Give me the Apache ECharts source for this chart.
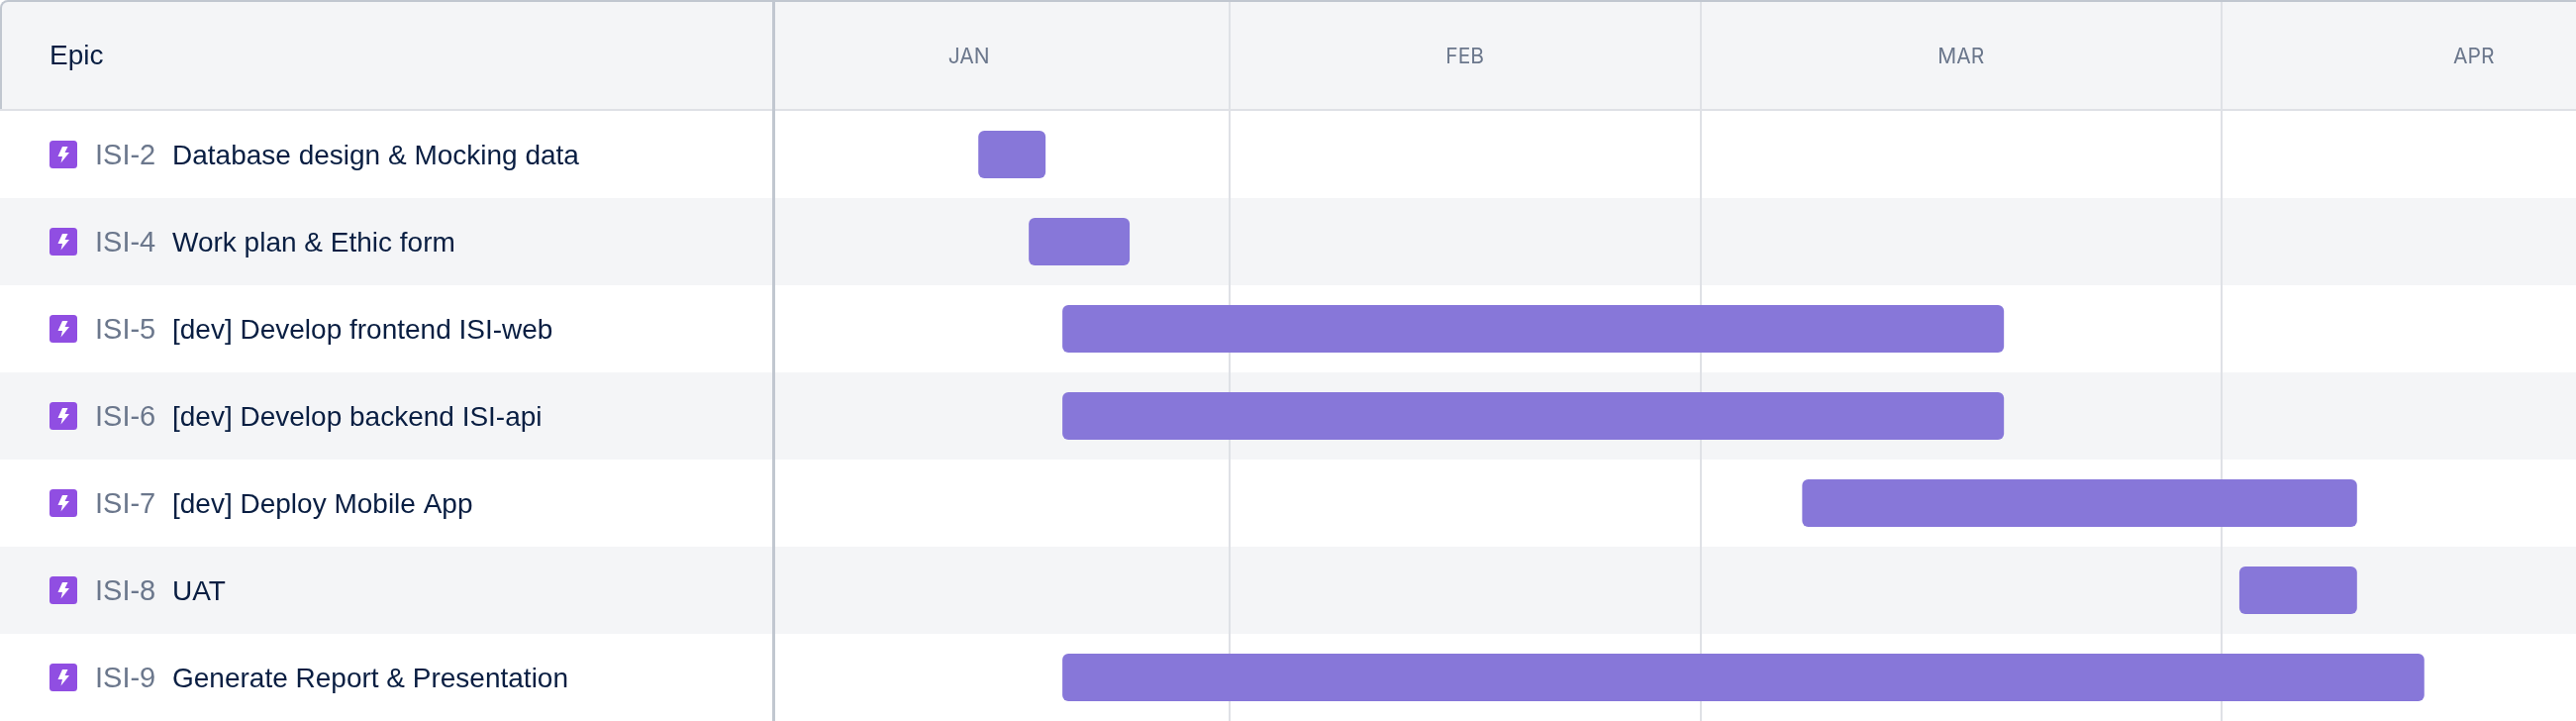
<!DOCTYPE html>
<html><head><meta charset="utf-8">
<style>html,body{margin:0;padding:0;background:#fff}#c{width:2602px;height:728px}</style>
<script src="https://cdn.jsdelivr.net/npm/echarts@6/dist/echarts.min.js"></script>
</head><body><div id="c"></div>
<script>
const keys = ['ISI-2','ISI-4','ISI-5','ISI-6','ISI-7','ISI-8','ISI-9'];
const titles = ['Database design & Mocking data','Work plan & Ethic form','[dev] Develop frontend ISI-web','[dev] Develop backend ISI-api','[dev] Deploy Mobile App','UAT','Generate Report & Presentation'];
const starts = ['2021-01-17','2021-01-20','2021-01-22','2021-01-22','2021-03-07','2021-04-02','2021-01-22'];
const ends   = ['2021-01-20','2021-01-25','2021-03-18','2021-03-18','2021-04-08','2021-04-08','2021-04-12'];
const monthLabels = ['JAN','FEB','MAR','APR'];
const monthStarts = ['2021-02-01','2021-03-01','2021-04-01'];
const monthMids = ['2021-01-16T12:00','2021-02-15T00:00','2021-03-16T12:00','2021-04-16T00:00'];
const axisMin = '2021-01-04T22:00';
const axisMax = '2021-04-22T02:00';
const headerTitle = 'Epic';

const FONT = '"Liberation Sans", Arial, sans-serif';
const DAY = 864e5;
const t = s => new Date(s.length > 10 ? s + ':00Z' : s + 'T00:00:00Z').getTime();
const midTimes = monthMids.map(t), startTimes = monthStarts.map(t);
const LEFT = 782, HEAD = 112, W = 2602, H = 728;

const chart = echarts.init(document.getElementById('c'), null, {renderer:'canvas', width:W, height:H});
const timeAxis = (grid, extra) => Object.assign({
  type:'value', gridIndex:grid, min:t(axisMin), max:t(axisMax), scale:true,
  axisLine:{show:false},
  axisTick:{show:false, customValues:startTimes},
  splitLine:{show:true, lineStyle:{color:'#DFE1E6', width:2}},
  axisLabel:{show:false, customValues:startTimes}
}, extra);

chart.setOption({
  animation:false,
  backgroundColor:'#fff',
  grid:[
    {left:0, top:HEAD, width:LEFT, height:H-HEAD},
    {left:LEFT, top:HEAD, right:0, height:H-HEAD},
    {left:LEFT, top:2, right:0, height:HEAD-2}
  ],
  xAxis:[
    {type:'value', gridIndex:0, min:0, max:1, show:false, splitLine:{show:false}},
    timeAxis(1,{}),
    timeAxis(2,{
      position:'bottom',
      axisLabel:{show:true, inside:true, margin:44, customValues:midTimes, hideOverlap:false, showMinLabel:true, showMaxLabel:true,
        color:'#6B778C', fontFamily:'Inter, "Open Sans", sans-serif', fontSize:21,
        formatter:(v)=>monthLabels[midTimes.indexOf(v)] || ''}
    })
  ],
  yAxis:[
    {type:'category', gridIndex:0, inverse:true, data:keys,
      axisLine:{show:false}, axisTick:{show:false},
      splitArea:{show:true, areaStyle:{color:['#FFFFFF','#F4F5F7'], opacity:1}},
      splitLine:{show:false},
      axisLabel:{inside:true, margin:96, align:'left', verticalAlign:'middle',
        formatter:(v,i)=>'{k|'+v+'}{s|}{n|'+titles[i]+'}',
        rich:{
          k:{color:'#6B778C', fontFamily:FONT, fontSize:29, width:66, padding:[4,0,0,0]},
          s:{width:12},
          n:{color:'#091E42', fontFamily:FONT, fontSize:28, padding:[4,0,0,0]}
        }}},
    {type:'category', gridIndex:1, inverse:true, data:keys, show:true,
      axisLine:{show:false}, axisTick:{show:false}, axisLabel:{show:false},
      splitArea:{show:true, areaStyle:{color:['#FFFFFF','#F4F5F7'], opacity:1}},
      splitLine:{show:false}},
    {type:'category', gridIndex:2, data:[''], show:false}
  ],
  graphic:[
    {type:'rect', z:-2, silent:true, shape:{x:0,y:0,width:W,height:HEAD,r:[8,0,0,0]}, style:{fill:'#C1C7D0'}},
    {type:'rect', z:-1, silent:true, shape:{x:2,y:2,width:W,height:HEAD,r:[6,0,0,0]}, style:{fill:'#F4F5F7'}},
    {type:'rect', z:50, silent:true, shape:{x:0,y:110,width:W,height:2}, style:{fill:'#DFE1E6'}},
    {type:'rect', z:50, silent:true, shape:{x:780,y:2,width:3,height:H}, style:{fill:'#C1C7D0'}},
    {type:'text', z:50, silent:true, x:50, y:57, style:{text:headerTitle, fill:'#091E42', font:'28px '+FONT, textVerticalAlign:'middle'}}
  ],
  series:[
    {type:'custom', name:'icons', coordinateSystem:'cartesian2d', xAxisIndex:0, yAxisIndex:0, z:5, silent:true,
      data:keys.map((k,i)=>[0,i]), encode:{x:0,y:1},
      renderItem:(p,api)=>{
        const cy = api.coord([0,api.value(1)])[1];
        return {type:'group', x:50, y:cy-14, children:[
          {type:'rect', shape:{x:0,y:0,width:28,height:28,r:3.5}, style:{fill:'#904EE2'}},
          {type:'polygon', shape:{points:[[13,6],[18.5,6],[15.5,12],[20,12],[11.5,22.5],[13,16],[8.5,16]]}, style:{fill:'#fff'}}
        ]};
      }},
    {type:'custom', name:'bars', coordinateSystem:'cartesian2d', xAxisIndex:1, yAxisIndex:1, z:10, silent:true,
      data:keys.map((k,i)=>[t(starts[i]), t(ends[i])+DAY, i]), encode:{x:[0,1],y:2},
      renderItem:(p,api)=>{
        const a = api.coord([api.value(0),api.value(2)]);
        const b = api.coord([api.value(1),api.value(2)]);
        return {type:'rect', shape:{x:a[0]+1,y:a[1]-24,width:b[0]-a[0],height:48,r:6}, style:{fill:'#8777D9'}};
      }}
  ]
});
</script></body></html>
